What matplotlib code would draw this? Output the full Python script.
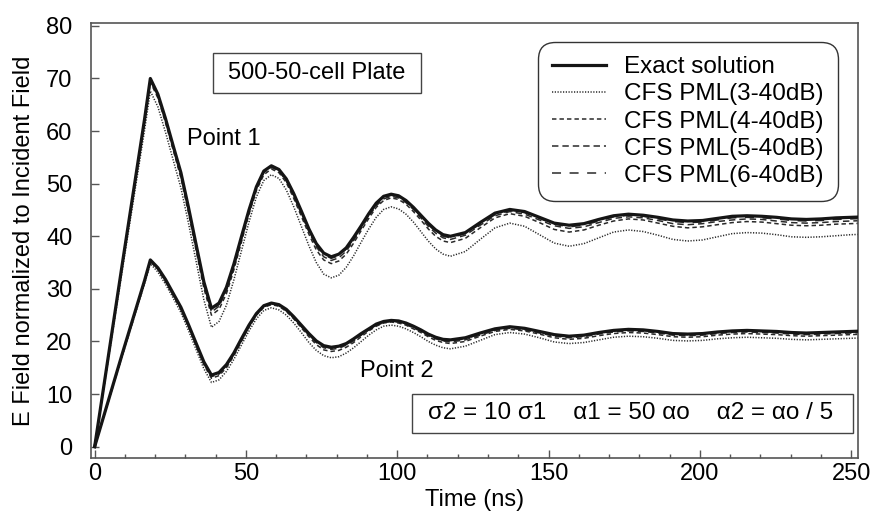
import matplotlib
matplotlib.use("Agg")
import matplotlib.pyplot as plt
from matplotlib.ticker import MultipleLocator
from matplotlib.patches import Rectangle

plt.rcParams["font.family"] = ["Liberation Sans", "DejaVu Sans"]

# ===== data =====
time_ns = [0, 9.2, 16.5, 18.4,
           20.9, 23.4, 25.9, 28.5, 31.0, 33.5, 36.1, 38.6,
           41.1, 43.55, 46.0, 48.5, 51.0, 53.45, 55.9, 58.4,
           60.9, 63.35, 65.8, 68.3, 70.8, 73.25, 75.7, 78.2,
           80.7, 83.15, 85.6, 88.1, 90.6, 93.05, 95.5, 98.0,
           100.45, 102.9, 105.35, 107.8, 110.25, 112.7, 115.15, 117.6,
           122.5, 127.4, 132.3, 137.2, 142.1, 147.0, 151.9, 156.8,
           161.7, 166.6, 171.5, 176.4, 181.3, 186.2, 191.1, 196.0,
           200.9, 205.8, 210.7, 215.6, 220.5, 225.4, 230.3, 235.2,
           240.1, 245.0, 249.9, 254.8]

# Point 1
p1_exact = [0, 35.0, 62.3, 70.0, 67.0, 62.4, 57.3, 52.1, 45.5, 38.5, 31.3, 26.3,
            27.3, 30.3, 34.7, 39.9, 45.0, 49.4, 52.4, 53.4, 52.7, 50.9, 48.1, 44.8,
            41.4, 38.6, 36.8, 36.1, 36.6, 37.8, 39.8, 42.0, 44.3, 46.3, 47.6, 48.0,
            47.7, 46.8, 45.5, 44.0, 42.5, 41.2, 40.3, 40.0, 40.7, 42.6, 44.4, 45.1,
            44.7, 43.6, 42.5, 42.1, 42.4, 43.2, 43.9, 44.2, 44.0, 43.6, 43.1, 42.9,
            43.0, 43.4, 43.8, 43.9, 43.8, 43.6, 43.3, 43.2, 43.3, 43.5, 43.6, 43.7]
p1_pml3 = [0, 33.8, 60.2, 67.6, 64.6, 59.8, 54.6, 49.2, 42.5, 35.3, 27.9, 22.7,
           23.8, 26.9, 31.7, 37.2, 42.7, 47.5, 50.6, 51.7, 51.0, 48.8, 45.6, 41.9,
           38.2, 35.0, 32.8, 32.1, 32.6, 34.1, 36.3, 38.9, 41.4, 43.6, 45.1, 45.6,
           45.2, 44.2, 42.7, 40.9, 39.1, 37.6, 36.6, 36.2, 37.1, 39.4, 41.6, 42.5,
           41.9, 40.3, 38.7, 38.1, 38.6, 39.7, 40.8, 41.2, 40.9, 40.2, 39.4, 39.1,
           39.3, 39.9, 40.5, 40.7, 40.6, 40.3, 39.9, 39.8, 39.9, 40.1, 40.3, 40.4]
p1_pml4 = [0, 34.7, 61.7, 69.3, 66.3, 61.6, 56.5, 51.1, 44.5, 37.4, 30.1, 25.0,
           26.1, 29.1, 33.6, 38.9, 44.2, 48.7, 51.7, 52.8, 52.1, 50.2, 47.2, 43.8,
           40.4, 37.4, 35.5, 34.8, 35.3, 36.6, 38.7, 41.1, 43.4, 45.5, 46.8, 47.3,
           47.0, 46.1, 44.7, 43.1, 41.4, 40.0, 39.1, 38.8, 39.6, 41.6, 43.5, 44.3,
           43.8, 42.6, 41.3, 40.8, 41.2, 42.1, 42.9, 43.3, 43.1, 42.5, 41.9, 41.6,
           41.8, 42.2, 42.6, 42.8, 42.7, 42.4, 42.1, 42.0, 42.1, 42.3, 42.4, 42.5]
p1_pml5 = [0, 34.8, 61.9, 69.6, 66.6, 62.0, 56.8, 51.6, 45.0, 37.9, 30.7, 25.6,
           26.7, 29.6, 34.1, 39.4, 44.6, 49.1, 52.1, 53.1, 52.4, 50.5, 47.6, 44.3,
           40.9, 38.0, 36.1, 35.4, 35.9, 37.2, 39.2, 41.5, 43.8, 45.8, 47.1, 47.6,
           47.3, 46.4, 45.1, 43.5, 41.9, 40.6, 39.7, 39.4, 40.2, 42.1, 43.9, 44.7,
           44.2, 43.1, 42.0, 41.5, 41.8, 42.6, 43.4, 43.7, 43.5, 43.0, 42.4, 42.2,
           42.4, 42.8, 43.1, 43.3, 43.2, 42.9, 42.6, 42.5, 42.6, 42.8, 42.9, 43.0]
p1_pml6 = [0, 34.9, 62.1, 69.8, 66.8, 62.2, 57.1, 51.8, 45.3, 38.3, 31.0, 26.0,
           27.0, 30.0, 34.4, 39.7, 44.9, 49.3, 52.3, 53.3, 52.6, 50.7, 47.9, 44.6,
           41.2, 38.4, 36.5, 35.8, 36.3, 37.6, 39.5, 41.8, 44.1, 46.1, 47.3, 47.8,
           47.5, 46.6, 45.3, 43.8, 42.2, 40.9, 40.0, 39.7, 40.5, 42.3, 44.1, 44.9,
           44.5, 43.4, 42.3, 41.8, 42.1, 42.9, 43.7, 44.0, 43.8, 43.3, 42.8, 42.6,
           42.7, 43.1, 43.5, 43.6, 43.5, 43.3, 43.0, 42.9, 43.0, 43.2, 43.3, 43.4]

# Point 2
p2_exact = [0, 17.8, 31.6, 35.5, 34.0, 31.8, 29.2, 26.5, 23.2, 19.7, 16.1, 13.6,
            14.1, 15.6, 17.8, 20.5, 23.1, 25.3, 26.8, 27.3, 27.0, 26.1, 24.7, 23.1,
            21.5, 20.1, 19.2, 18.9, 19.1, 19.6, 20.5, 21.5, 22.4, 23.3, 23.8, 24.0,
            23.9, 23.5, 22.9, 22.2, 21.4, 20.8, 20.4, 20.3, 20.7, 21.6, 22.4, 22.8,
            22.5, 21.9, 21.3, 21.0, 21.2, 21.7, 22.1, 22.3, 22.2, 21.9, 21.5, 21.4,
            21.5, 21.8, 22.0, 22.1, 22.0, 21.9, 21.7, 21.6, 21.7, 21.8, 21.9, 22.0]
p2_pml3 = [0, 17.4, 31.0, 34.8, 33.2, 30.9, 28.3, 25.5, 22.1, 18.5, 14.8, 12.2,
           12.7, 14.3, 16.6, 19.3, 22.0, 24.3, 25.9, 26.4, 26.0, 25.0, 23.5, 21.7,
           19.8, 18.3, 17.3, 16.9, 17.1, 17.8, 18.8, 20.0, 21.2, 22.2, 22.9, 23.1,
           22.9, 22.4, 21.7, 20.9, 20.0, 19.3, 18.8, 18.6, 19.1, 20.2, 21.3, 21.7,
           21.4, 20.7, 19.9, 19.6, 19.8, 20.3, 20.8, 21.0, 20.9, 20.6, 20.2, 20.1,
           20.2, 20.5, 20.7, 20.8, 20.7, 20.6, 20.4, 20.3, 20.4, 20.5, 20.6, 20.7]
p2_pml4 = [0, 17.6, 31.3, 35.2, 33.7, 31.4, 28.8, 26.1, 22.8, 19.2, 15.6, 13.0,
           13.5, 15.0, 17.3, 20.0, 22.7, 25.0, 26.5, 27.0, 26.7, 25.7, 24.3, 22.6,
           20.9, 19.4, 18.4, 18.1, 18.3, 18.9, 19.8, 20.9, 22.0, 22.9, 23.5, 23.7,
           23.5, 23.1, 22.4, 21.7, 20.9, 20.2, 19.8, 19.6, 20.0, 21.0, 21.9, 22.3,
           22.0, 21.4, 20.7, 20.4, 20.6, 21.1, 21.5, 21.7, 21.6, 21.3, 20.9, 20.8,
           20.9, 21.2, 21.4, 21.5, 21.4, 21.3, 21.1, 21.0, 21.1, 21.2, 21.3, 21.4]
p2_pml5 = [0, 17.7, 31.4, 35.3, 33.8, 31.5, 28.9, 26.3, 23.0, 19.5, 15.8, 13.3,
           13.8, 15.3, 17.6, 20.2, 22.8, 25.1, 26.6, 27.1, 26.8, 25.8, 24.4, 22.8,
           21.2, 19.8, 18.8, 18.5, 18.7, 19.3, 20.1, 21.2, 22.2, 23.0, 23.6, 23.8,
           23.7, 23.2, 22.6, 21.9, 21.1, 20.5, 20.1, 19.9, 20.3, 21.2, 22.1, 22.5,
           22.2, 21.6, 21.0, 20.7, 20.9, 21.4, 21.8, 22.0, 21.9, 21.6, 21.2, 21.1,
           21.2, 21.5, 21.7, 21.8, 21.7, 21.6, 21.4, 21.3, 21.4, 21.5, 21.6, 21.7]
p2_pml6 = [0, 17.7, 31.5, 35.4, 33.9, 31.7, 29.1, 26.4, 23.1, 19.6, 16.0, 13.5,
           14.0, 15.5, 17.7, 20.4, 23.0, 25.2, 26.7, 27.2, 26.9, 26.0, 24.6, 23.0,
           21.3, 19.9, 19.0, 18.7, 18.9, 19.5, 20.3, 21.3, 22.3, 23.1, 23.7, 23.9,
           23.8, 23.3, 22.7, 22.0, 21.3, 20.7, 20.2, 20.1, 20.5, 21.4, 22.3, 22.7,
           22.4, 21.8, 21.2, 20.9, 21.1, 21.6, 22.0, 22.2, 22.1, 21.8, 21.4, 21.3,
           21.4, 21.7, 21.9, 22.0, 21.9, 21.8, 21.6, 21.5, 21.6, 21.7, 21.8, 21.9]

labels = ["Exact solution", "CFS PML(3-40dB)", "CFS PML(4-40dB)",
          "CFS PML(5-40dB)", "CFS PML(6-40dB)"]

# ===== styles =====
styles = [
    dict(color="#151515", lw=2.3, ls="-"),
    dict(color="#2a2a2a", lw=1.1, ls=(0, (0.8, 1.0))),
    dict(color="#2a2a2a", lw=1.1, ls=(0, (2.9, 2.0))),
    dict(color="#2a2a2a", lw=1.1, ls=(0, (4.2, 2.6))),
    dict(color="#2a2a2a", lw=1.1, ls=(0, (5.9, 5.6))),
]
FS = 17

fig = plt.figure(figsize=(8.72, 5.15), dpi=100)
ax = fig.add_axes([0.1044, 0.1113, 0.8796, 0.8435])

p1_series = [p1_exact, p1_pml3, p1_pml4, p1_pml5, p1_pml6]
p2_series = [p2_exact, p2_pml3, p2_pml4, p2_pml5, p2_pml6]

# PML curves first, exact solution drawn on top
lines = {}
for i in [1, 2, 3, 4, 0]:
    z = 3 if i == 0 else 2
    lines[i], = ax.plot(time_ns, p1_series[i], zorder=z, **styles[i])
    ax.plot(time_ns, p2_series[i], zorder=z, **styles[i])

ax.set_xlim(-1.2, 252.3)
ax.set_ylim(-2.1, 80.5)
ax.xaxis.set_major_locator(MultipleLocator(50))
ax.xaxis.set_minor_locator(MultipleLocator(10))
ax.yaxis.set_major_locator(MultipleLocator(10))

spine_c = "#555555"
for s in ax.spines.values():
    s.set_color(spine_c)
    s.set_linewidth(1.2)
ax.tick_params(which="both", direction="in", color=spine_c, labelsize=FS,
               top=False, right=False)
ax.tick_params(which="major", length=5.5, width=1.0)
ax.tick_params(which="minor", length=3, width=1.0)
ax.tick_params(axis="x", pad=4)
ax.tick_params(axis="y", pad=13.5)

ax.set_xlabel("Time (ns)", fontsize=FS, labelpad=3)
ax.set_ylabel("E Field normalized to Incident Field", fontsize=FS, labelpad=8)

leg = ax.legend([lines[i] for i in range(5)], labels,
                loc="upper right", bbox_to_anchor=(0.971, 0.952), fontsize=17.5,
                handlelength=2.2, handletextpad=0.75, labelspacing=0.21,
                borderpad=0.5, borderaxespad=0, frameon=True, fancybox=True,
                framealpha=1)
leg.get_frame().set_edgecolor("#333333")
leg.get_frame().set_linewidth(1.0)
leg.get_frame().set_boxstyle("round,pad=0.1,rounding_size=0.7")

ax.text(30.6, 57.3, "Point 1", fontsize=FS, ha="left", va="baseline")
ax.text(87.7, 13.3, "Point 2", fontsize=FS, ha="left", va="baseline")

# boxed labels
ax.text(44.1, 71.1, "500-50-cell Plate", fontsize=FS, ha="left", va="center", zorder=5)
fig.canvas.draw()
bb = ax.texts[-1].get_window_extent(fig.canvas.get_renderer())
inv = ax.transData.inverted()
xl = inv.transform((bb.x0 - 15.5, 0))[0]
xr = inv.transform((bb.x1 + 15.5, 0))[0]
ax.add_patch(Rectangle((xl, 67.3), xr - xl, 7.6, fc="white", ec="#444444",
                       lw=1.0, zorder=4))

ax.text(110.2, 6.4, "\u03c32 = 10 \u03c31    \u03b11 = 50 \u03b1o    \u03b12 = \u03b1o / 5",
        fontsize=17.5, ha="left", va="center", zorder=5)
ax.add_patch(Rectangle((104.8, 2.5), 145.8, 7.6, fc="white", ec="#444444",
                       lw=1.0, zorder=4))

fig.savefig("out.png", dpi=100, facecolor="white")
